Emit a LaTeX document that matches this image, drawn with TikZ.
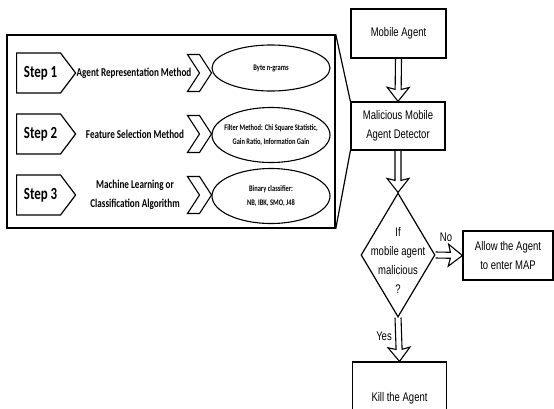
\documentclass[tikz,border=0pt]{standalone}
\usepackage{fontspec}
\newfontfamily\stepfont[FakeStretch=0.76]{Carlito}
\newfontfamily\flowfont[FakeStretch=0.76]{Liberation Sans}
\usepackage{tikz}
\usetikzlibrary{positioning,calc}
\usetikzlibrary{shapes.geometric,shapes.symbols}

\tikzset{
  panel/.style={draw, line width=1.5pt, minimum width=328pt, minimum height=193pt, inner sep=0pt},
  panelline/.style={line width=1.2pt},
  stepbox/.style={draw, line width=1.2pt, signal, signal to=east, signal pointer angle=106,
    minimum width=59pt, minimum height=40pt, inner sep=0pt,
    font={\stepfont\bfseries\fontsize{17}{19}\selectfont}},
  steptext/.style={align=center, font={\stepfont\bfseries\fontsize{12}{19}\selectfont}},
  chev/.style={draw, line width=1.1pt, signal, signal to=east, signal from=west,
    signal pointer angle=114, minimum width=23pt, minimum height=37pt, inner sep=0pt},
  oval/.style={draw, ellipse, line width=1.1pt, minimum width=118pt, minimum height=55pt, inner sep=0pt},
  ovaltext/.style={align=center, font={\stepfont\bfseries\fontsize{8.5}{14}\selectfont}},
  flowbox/.style={draw, line width=1.2pt, minimum width=94pt, minimum height=49pt, align=center,
    font={\flowfont\fontsize{12.5}{19}\selectfont}},
  flowtext/.style={align=center, font={\flowfont\fontsize{12.5}{19}\selectfont}},
  decbox/.style={draw, diamond, line width=1.2pt, minimum width=74pt, minimum height=124pt, inner sep=0pt},
  arrowline/.style={line width=1.1pt, line join=miter}
}

% hollow double-line arrow from #1 to #2
\newcommand{\hollowarrow}[2]{%
  \coordinate (ha) at ($(#2)!12pt!(#1)$);
  \coordinate (hb) at ($(#2)!14pt!(#1)$);
  \draw[arrowline] ($(#1)!3pt!90:(#2)$) -- ($(ha)!3pt!90:(#2)$) -- ($(hb)!11pt!90:(#2)$) -- (#2)
    -- ($(hb)!11pt!-90:(#2)$) -- ($(ha)!3pt!-90:(#2)$) -- ($(#1)!3pt!-90:(#2)$);
}

\begin{document}
\begin{tikzpicture}[x=1pt,y=-1pt]
  \useasboundingbox (0,0) rectangle (554,408);
  % steps panel
  \node[panel] (panel) at (171,131.5) {};
  \node[stepbox, anchor=west] (s1) at (16,73) {\hspace{4pt}Step 1};
  \node[stepbox, anchor=west] (s2) at (16,134) {\hspace{4pt}Step 2};
  \node[stepbox, anchor=west] (s3) at (16,195) {\hspace{4pt}Step 3};
  \node[steptext] (t1) at (134,73) {Agent Representation Method};
  \node[steptext] (t2) at (135,134) {Feature Selection Method};
  \node[steptext] (t3) at (135,195) {Machine Learning or\\Classification Algorithm};
  \node[chev] (c1) at (199.5,73) {};
  \node[chev] (c2) at (199.5,134) {};
  \node[chev] (c3) at (199.5,195) {};
  \node[oval, minimum height=46pt, label={[ovaltext]center:{Byte n-grams}}] (o1) at (271,68) {};
  \node[oval, label={[ovaltext]center:{Filter Method: Chi Square Statistic,\\Gain Ratio, Information Gain}}] (o2) at (271,135) {};
  \node[oval, label={[ovaltext]center:{Binary classifier:\\NB, IBK, SMO, J48}}] (o3) at (271,196) {};

  % flow chart
  \node[flowbox, minimum width=95pt] (mob) at (398.5,33.5) {Mobile Agent};
  \node[flowbox, minimum height=48pt] (det) at (398,126) {Malicious Mobile\\Agent Detector};
  \node[decbox, label={[flowtext, yshift=-5pt]center:{If\\mobile agent\\malicious\\?}}] (dec) at (398,255) {};
  \node[flowbox, minimum width=90pt] (allow) at (508,255.5) {Allow the Agent\\to enter MAP};
  \node[flowbox, minimum height=72pt] (kill) at (399.5,398) {Kill the Agent};

  \draw[panelline] (panel.north east) -- (det.north west);
  \draw[panelline] (panel.south east) -- (det.south west);

  \hollowarrow{mob.south}{det.north}
  \hollowarrow{det.south}{dec.north}
  \hollowarrow{dec.east}{allow.west}
  \hollowarrow{dec.south}{kill.north}

  \node[flowtext] (no) at (446,237) {No};
  \node[flowtext] (yes) at (384,336) {Yes};
\end{tikzpicture}
\end{document}
